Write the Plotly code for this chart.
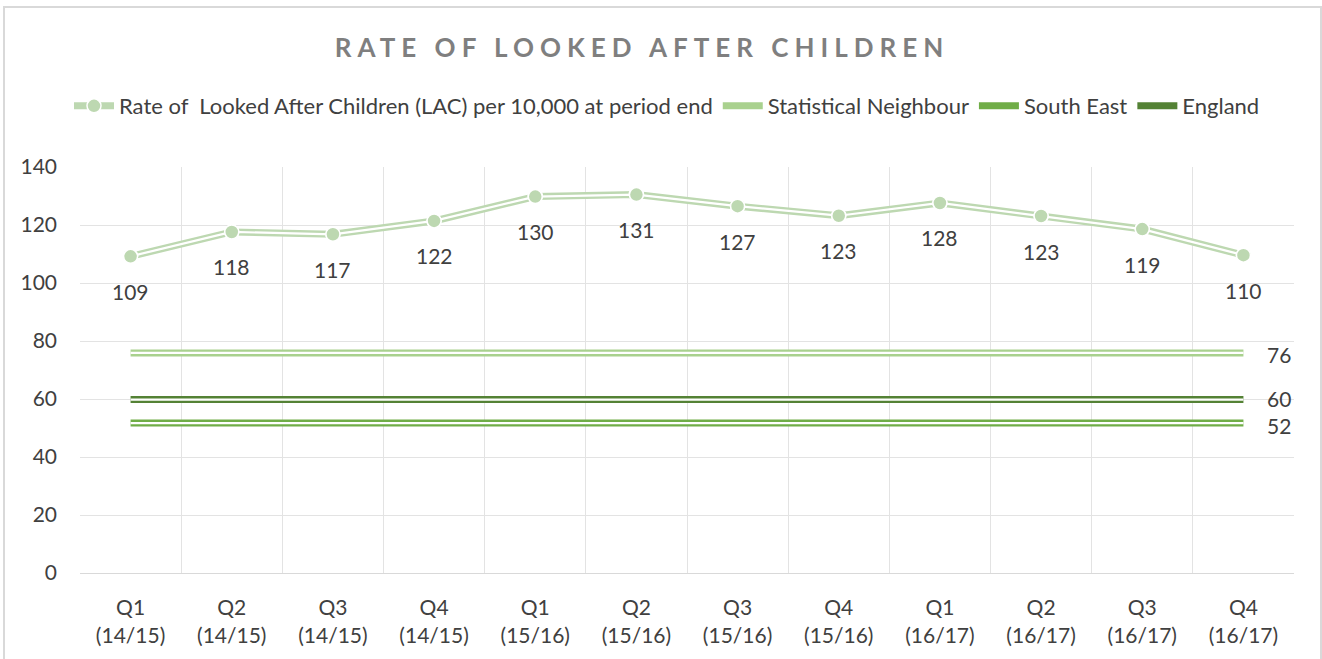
import plotly.graph_objects as go

categories = ["Q1<br>(14/15)", "Q2<br>(14/15)", "Q3<br>(14/15)", "Q4<br>(14/15)",
              "Q1<br>(15/16)", "Q2<br>(15/16)", "Q3<br>(15/16)", "Q4<br>(15/16)",
              "Q1<br>(16/17)", "Q2<br>(16/17)", "Q3<br>(16/17)", "Q4<br>(16/17)"]
lac_rate = [109.2, 117.6, 116.8, 121.4, 129.8, 130.5, 126.5, 123.2, 127.6, 123.1, 118.6, 109.6]
lac_labels = ["109", "118", "117", "122", "130", "131", "127", "123", "128", "123", "119", "110"]
stat_neighbour = 75.9
south_east = 51.7
england = 59.8
y_ticks = [0, 20, 40, 60, 80, 100, 120, 140]

FONT = "Lato, 'Open Sans', sans-serif"
TXT = "#404040"
LAC_COLOR = "#BDD8B1"

fig = go.Figure()
n = len(categories)
annotations = []

def ref_line(name, value, color, yshift):
    vals = [value] * n
    fig.add_trace(go.Scatter(
        x=categories, y=vals, name=name, legendgroup=name,
        mode="lines", line=dict(color=color, width=7), hoverinfo="skip",
    ))
    fig.add_trace(go.Scatter(
        x=categories, y=vals, legendgroup=name, showlegend=False,
        mode="lines", line=dict(color="white", width=2.2), hoverinfo="skip",
    ))
    annotations.append(dict(
        x=categories[-1], y=value, xref="x", yref="y", text=f"{value:.0f}",
        showarrow=False, xanchor="left", yanchor="middle", xshift=22, yshift=yshift,
        font=dict(family=FONT, size=21, color=TXT),
    ))

# main series (legend entry shows line + marker)
fig.add_trace(go.Scatter(
    x=categories, y=lac_rate, name="Rate of  Looked After Children (LAC) per 10,000 at period end",
    legendgroup="lac", mode="lines+markers", line=dict(color=LAC_COLOR, width=7),
    marker=dict(size=14, color=LAC_COLOR, line=dict(color="white", width=1.5)),
    hoverinfo="skip",
))
ref_line("Statistical Neighbour", stat_neighbour, "#A9D18E", -2)
ref_line("South East", south_east, "#70AD47", -2)
ref_line("England", england, "#548235", 1)

fig.add_trace(go.Scatter(
    x=categories, y=lac_rate, legendgroup="lac", showlegend=False,
    mode="lines", line=dict(color="white", width=2.2), hoverinfo="skip",
))
fig.add_trace(go.Scatter(
    x=categories, y=lac_rate, legendgroup="lac", showlegend=False,
    mode="markers",
    marker=dict(size=14, color=LAC_COLOR, line=dict(color="white", width=1.5)),
    hoverinfo="skip",
))
for c, v, t in zip(categories, lac_rate, lac_labels):
    annotations.append(dict(
        x=c, y=v, xref="x", yref="y", text=t, showarrow=False,
        xanchor="center", yanchor="middle", yshift=-35,
        font=dict(family=FONT, size=21, color=TXT),
    ))

fig.update_layout(
    width=1322, height=659,
    margin=dict(l=80, r=28, t=167, b=86),
    paper_bgcolor="white", plot_bgcolor="white",
    font=dict(family=FONT, size=21, color=TXT),
    title=dict(
        text="<b><span style='letter-spacing:6px'>RATE OF LOOKED AFTER CHILDREN</span></b>",
        x=642 / 1322, xanchor="center", xref="container",
        y=1 - 48 / 659, yanchor="middle", yref="container",
        font=dict(family=FONT, size=26, color="#7F7F7F"),
    ),
    legend=dict(
        orientation="h", x=667 / 1322, xanchor="center", xref="container",
        y=1 - 106 / 659, yanchor="middle", yref="container",
        font=dict(family=FONT, size=22, color=TXT),
        itemwidth=40, tracegroupgap=0, traceorder="normal",
    ),
    showlegend=True,
    xaxis=dict(
        type="category", range=[-0.5, n - 0.5], tickson="boundaries",
        showgrid=True, gridcolor="#E3E3E3", gridwidth=1,
        showline=True, linecolor="#D9D9D9", linewidth=1, ticks="", zeroline=False,
        tickfont=dict(family=FONT, size=21, color=TXT), ticklabelstandoff=16,
    ),
    yaxis=dict(
        range=[0, 140], tickvals=y_ticks, showgrid=True, gridcolor="#E3E3E3", gridwidth=1,
        zeroline=False, showline=False, ticks="",
        tickfont=dict(family=FONT, size=21, color=TXT), ticklabelstandoff=22,
    ),
    annotations=annotations,
    shapes=[dict(type="rect", xref="paper", yref="paper",
                 x0=(4 - 80) / 1214, x1=(1321 - 80) / 1214,
                 y0=-(700 - 573) / 406, y1=1 + (167 - 7) / 406,
                 line=dict(color="#D9D9D9", width=2), layer="below")],
)

fig.write_html("out.html")
